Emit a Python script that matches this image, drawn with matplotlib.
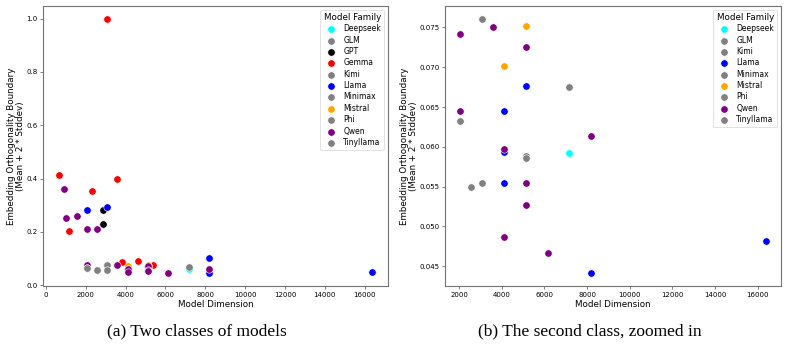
import numpy as np
import matplotlib
matplotlib.use("Agg")
import matplotlib.pyplot as plt

# one row per model: family, hidden dimension, boundary (mean + 2*std)
family = ["Gemma", "Gemma", "Gemma", "Gemma", "Gemma", "Gemma", "Gemma", "Gemma",
          "GPT", "GPT",
          "Llama", "Llama", "Llama",
          "Qwen", "Qwen", "Qwen", "Qwen", "Qwen",
          "Qwen", "Qwen", "Qwen", "Qwen", "Qwen", "Qwen", "Qwen", "Qwen", "Qwen", "Qwen",
          "Mistral", "Mistral",
          "Llama", "Llama", "Llama", "Llama", "Llama", "Llama",
          "Deepseek",
          "Tinyllama", "Phi", "Phi", "Phi", "Minimax", "GLM", "Kimi"]
dim = [640, 1152, 2304, 3072, 3584, 3840, 4608, 5376,
       2880, 2880,
       2048, 3072, 8192,
       896, 1024, 1536, 2048, 2560,
       2048, 3584, 5120, 2048, 8192, 4096, 5120, 5120, 4096, 6144,
       5120, 4096,
       5120, 4096, 4096, 4096, 8192, 16384,
       7168,
       2048, 2560, 3072, 5120, 3072, 5120, 7168]
boundary = [0.415, 0.203, 0.352, 1.0, 0.398, 0.087, 0.092, 0.075,
            0.282, 0.230,
            0.283, 0.294, 0.101,
            0.360, 0.253, 0.260, 0.212, 0.210,
            0.0742, 0.0750, 0.0726, 0.0645, 0.0613, 0.0597, 0.0555, 0.0527, 0.0487, 0.0466,
            0.0752, 0.0702,
            0.0676, 0.0645, 0.0594, 0.0554, 0.0441, 0.0481,
            0.0592,
            0.0633, 0.0550, 0.0554, 0.0586, 0.0761, 0.0589, 0.0675]

colors = {"Deepseek": "cyan", "GLM": "gray", "GPT": "black", "Gemma": "red",
          "Kimi": "gray", "Llama": "blue", "Minimax": "gray", "Mistral": "orange",
          "Phi": "gray", "Qwen": "purple", "Tinyllama": "gray"}

family = np.array(family)
dim = np.array(dim)
boundary = np.array(boundary)

# second class: everything that is not Gemma/GPT and sits low
second = (~np.isin(family, ["Gemma", "GPT"])) & (boundary < 0.08)

fig = plt.figure(figsize=(7.88, 3.47), dpi=100)
W, H = 788, 347
ax1 = fig.add_axes([43 / W, 1 - 286 / H, 345 / W, 280 / H])
ax2 = fig.add_axes([445 / W, 1 - 286 / H, 336 / W, 280 / H])


def draw(ax, mask):
    fams = sorted(set(family[mask]))
    for f in fams:
        m = mask & (family == f)
        ax.scatter(dim[m], boundary[m], s=28, color=colors[f], edgecolors="white",
                   linewidths=0.4, label=f)
    ax.set_xlabel("Model Dimension", fontsize=6.3, labelpad=1.5)
    ax.set_ylabel("Embedding Orthogonality Boundary\n(Mean + 2 * Stddev)",
                  fontsize=6.3, labelpad=1, linespacing=1.0)
    ax.set_xticks(np.arange(0 if ax is ax1 else 2000, 16001, 2000))
    ax.tick_params(labelsize=5, length=2.5, width=0.5, pad=1.5, color="0.3")
    for s in ax.spines.values():
        s.set_color("0.45")
        s.set_linewidth(0.8)
    leg = ax.legend(title="Model Family", fontsize=5.5, title_fontsize=6.3,
                    loc="upper right", labelspacing=0.31, borderpad=0.4,
                    handletextpad=0.6, markerscale=1.0)
    leg.get_frame().set_linewidth(0.5)


draw(ax1, np.ones(len(dim), dtype=bool))
draw(ax2, second)
ax1.set_yticks(np.arange(0, 1.01, 0.2))
ax1.yaxis.set_major_formatter(matplotlib.ticker.FormatStrFormatter("%.1f"))
ax2.yaxis.set_major_formatter(matplotlib.ticker.FormatStrFormatter("%.3f"))

fig.text(197 / W, 1 - 331 / H, "(a) Two classes of models", ha="center", va="center",
         family="Liberation Serif", fontsize=12.5)
fig.text(590 / W, 1 - 331 / H, "(b) The second class, zoomed in", ha="center",
         va="center", family="Liberation Serif", fontsize=12.5)

fig.savefig("out.png", dpi=100)
